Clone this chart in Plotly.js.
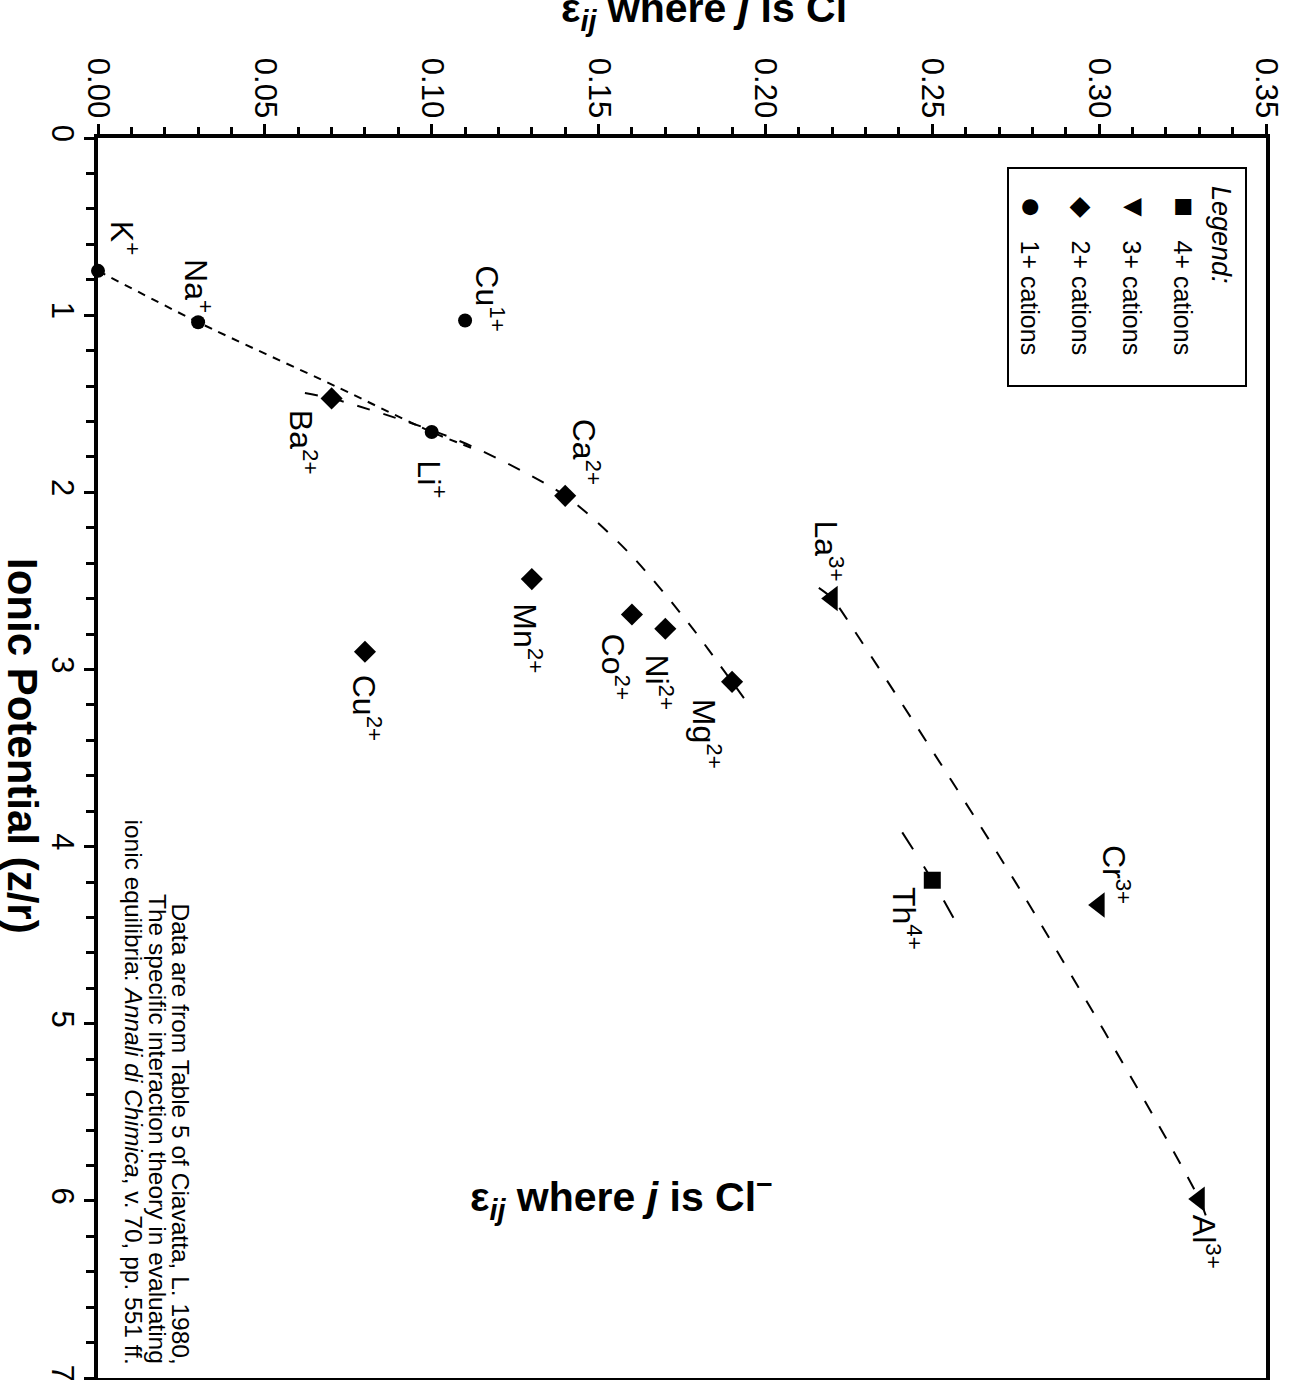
<!DOCTYPE html>
<html><head><meta charset="utf-8">
<script src="https://cdn.plot.ly/plotly-3.0.1.min.js"></script>
<style>html,body{margin:0;padding:0;background:#fff}</style>
</head><body><div id="chart" style="width:1293px;height:1380px"></div>
<script>
// ---- data (epsilon with Cl-, ionic potential z/r) ----
const ions1 = ['K<sup>+</sup>','Na<sup>+</sup>','Cu<sup>1+</sup>','Li<sup>+</sup>'];
const eps1 = [0.00, 0.03, 0.11, 0.10];
const zr1 = [0.75, 1.04, 1.03, 1.66];
const ions2 = ['Ba<sup>2+</sup>','Ca<sup>2+</sup>','Mn<sup>2+</sup>','Co<sup>2+</sup>','Ni<sup>2+</sup>','Cu<sup>2+</sup>','Mg<sup>2+</sup>'];
const eps2 = [0.07, 0.14, 0.13, 0.16, 0.17, 0.08, 0.19];
const zr2 = [1.47, 2.02, 2.49, 2.69, 2.77, 2.90, 3.07];
const ions3 = ['La<sup>3+</sup>','Cr<sup>3+</sup>','Al<sup>3+</sup>'];
const eps3 = [0.22, 0.30, 0.33];
const zr3 = [2.60, 4.33, 5.99];
const ions4 = ['Th<sup>4+</sup>'];
const eps4 = [0.25];
const zr4 = [4.19];

// trend lines
const trend1Eps = [0.00, 0.03, 0.071, 0.10, 0.112];
const trend1Zr  = [0.75, 1.04, 1.40, 1.66, 1.75];
const trend2Eps = [0.062, 0.07, 0.094, 0.112, 0.14, 0.159, 0.177, 0.19, 0.195];
const trend2Zr  = [1.44, 1.47, 1.61, 1.74, 2.02, 2.34, 2.74, 3.07, 3.20];
const trend3Eps = [0.216, 0.22, 0.228, 0.2775, 0.33, 0.3326];
const trend3Zr  = [2.54, 2.60, 2.82, 4.28, 5.99, 6.12];
const trend4Eps = [0.241, 0.25, 0.258];
const trend4Zr  = [3.92, 4.19, 4.46];

const xTickVals = [0, 0.05, 0.10, 0.15, 0.20, 0.25, 0.30, 0.35];
const xTickText = ['0.00','0.05','0.10','0.15','0.20','0.25','0.30','0.35'];
const yTickVals = [0, 1, 2, 3, 4, 5, 6, 7];
const yTickText = ['0','1','2','3','4','5','6','7'];

const legendTitle = 'Legend:';
const legendLabels = ['4+ cations', '3+ cations', '2+ cations', '1+ cations'];
const legendGlyphs = ['\u25A0', '\u25BC', '\u25C6', '\u25CF'];

const axisTitleX = '\u03B5<sub><i>ij</i></sub> where <i>j</i> is Cl<sup>\u2212</sup>';
const axisTitleY = 'Ionic Potential (z/r)';
const sourceLines = [
  'Data are from Table 5 of Ciavatta, L. 1980,',
  'The specific interaction theory in evaluating',
  'ionic equilibria: <i>Annali di Chimica</i>, v. 70, pp. 551 ff.'
];

// ---- styling / placement ----
const FONT = 'Liberation Sans, Arial, Helvetica, sans-serif';
const W = 1293, H = 1380;
const M = {l: 98, r: 27, t: 138, b: 2};
const pw = W - M.l - M.r, ph = H - M.t - M.b;
const px2paperX = p => (p - M.l) / pw;
const px2paperY = p => (H - M.b - p) / ph;

const labelOffsets = { // pixel offsets of label centre from point [dx, dy(down)]
  'K<sup>+</sup>': [27, -33], 'Na<sup>+</sup>': [0, -36], 'Cu<sup>1+</sup>': [24, -22],
  'Li<sup>+</sup>': [0, 47], 'Ba<sup>2+</sup>': [-29, 44], 'Ca<sup>2+</sup>': [21, -44],
  'Mn<sup>2+</sup>': [-4, 59], 'Co<sup>2+</sup>': [-16, 52], 'Ni<sup>2+</sup>': [-6, 54],
  'Mg<sup>2+</sup>': [-25, 52], 'Cu<sup>2+</sup>': [2, 56], 'La<sup>3+</sup>': [-3, -48],
  'Cr<sup>3+</sup>': [17, -31], 'Th<sup>4+</sup>': [-26, 38], 'Al<sup>3+</sup>': [7, 43]
};

function lineTrace(xs, ys, dash) {
  return {x: xs, y: ys, type: 'scatter', mode: 'lines', hoverinfo: 'skip',
    line: {color: '#000', width: 2, dash: dash, shape: 'spline', smoothing: 0.8}, showlegend: false};
}
function markTrace(xs, ys, sym, size, names) {
  return {x: xs, y: ys, type: 'scatter', mode: 'markers', text: names, hoverinfo: 'text',
    cliponaxis: false, marker: {color: '#000', symbol: sym, size: size, line: {width: 0}}, showlegend: false};
}

const data = [
  lineTrace(trend1Eps, trend1Zr, '8px,7px'),
  lineTrace(trend2Eps, trend2Zr, '13px,14px'),
  lineTrace(trend3Eps, trend3Zr, '14px,15px'),
  lineTrace(trend4Eps, trend4Zr, '20px,20px'),
  markTrace(eps1, zr1, 'circle', 14, ions1),
  markTrace(eps2, zr2, 'diamond', 17, ions2),
  markTrace(eps3, zr3, 'triangle-left', 22, ions3),
  markTrace(eps4, zr4, 'square', 17, ions4)
];

const annotations = [];
[[ions1, eps1, zr1], [ions2, eps2, zr2], [ions3, eps3, zr3], [ions4, eps4, zr4]].forEach(([names, xs, ys]) => {
  names.forEach((n, i) => {
    const o = labelOffsets[n] || [0, 0];
    annotations.push({x: xs[i], y: ys[i], xref: 'x', yref: 'y', text: n, showarrow: false,
      textangle: 90, xanchor: 'center', yanchor: 'middle', xshift: o[0], yshift: -o[1],
      font: {family: FONT, size: 32, color: '#000'}});
  });
});

// legend (rotated) inside box
annotations.push({xref: 'paper', yref: 'paper', x: px2paperX(1221), y: px2paperY(184), text: '<i>' + legendTitle + '</i>',
  showarrow: false, textangle: 90, xanchor: 'center', yanchor: 'top', font: {family: FONT, size: 27, color: '#000'}});
const legX = [1183, 1132, 1081, 1030];
legendLabels.forEach((t, i) => {
  annotations.push({xref: 'paper', yref: 'paper', x: px2paperX(legX[i]), y: px2paperY(238), text: t,
    showarrow: false, textangle: 90, xanchor: 'center', yanchor: 'top', font: {family: FONT, size: 25, color: '#000'}});
  annotations.push({xref: 'paper', yref: 'paper', x: px2paperX(legX[i] + 2), y: px2paperY(207), text: legendGlyphs[i],
    showarrow: false, textangle: 90, xanchor: 'center', yanchor: 'middle',
    font: {family: 'DejaVu Sans', size: i === 2 ? 27 : (i === 1 ? 24 : 21), color: '#000'}});
});

// in-plot title and cut-off top title
annotations.push({xref: 'paper', yref: 'paper', x: px2paperX(621), y: px2paperY(1197), text: '<b>' + axisTitleX + '</b>',
  showarrow: false, xanchor: 'center', yanchor: 'middle', font: {family: FONT, size: 41, color: '#000'}});
annotations.push({xref: 'paper', yref: 'paper', x: px2paperX(712), y: px2paperY(8), text: '<b>' + axisTitleX + '</b>',
  showarrow: false, xanchor: 'center', yanchor: 'middle', font: {family: FONT, size: 41, color: '#000'}});
// y axis title, rotated to read downward
annotations.push({xref: 'paper', yref: 'paper', x: px2paperX(23), y: px2paperY(746), text: '<b>' + axisTitleY + '</b>',
  showarrow: false, textangle: 90, xanchor: 'center', yanchor: 'middle', font: {family: FONT, size: 42, color: '#000'}});
// source note
const srcX = [180, 158, 133];
sourceLines.forEach((t, i) => {
  annotations.push({xref: 'paper', yref: 'paper', x: px2paperX(srcX[i]), y: px2paperY(1366), text: t,
    showarrow: false, textangle: 90, xanchor: 'center', yanchor: 'bottom', font: {family: FONT, size: 24.5, color: '#000'}});
});

const shapes = [{type: 'rect', xref: 'paper', yref: 'paper', x0: px2paperX(1008), x1: px2paperX(1246),
  y0: px2paperY(386), y1: px2paperY(168), line: {color: '#000', width: 2}, fillcolor: 'rgba(0,0,0,0)'}];

const axisCommon = {showline: true, linecolor: '#000', linewidth: 4, mirror: true, ticks: 'outside',
  tickcolor: '#000', tickwidth: 3, showgrid: false, zeroline: false, tickangle: 90,
  ticklabeloverflow: 'allow', tickfont: {family: FONT, size: 31, color: '#000'}, fixedrange: true};

const layout = {
  width: W, height: H, margin: M, paper_bgcolor: '#fff', plot_bgcolor: '#fff', showlegend: false,
  xaxis: Object.assign({}, axisCommon, {side: 'top', range: [0, 0.35], tickvals: xTickVals, ticktext: xTickText,
    ticklen: 10, ticklabelstandoff: -5, minor: {dtick: 0.01, ticks: 'outside', ticklen: 7, tickwidth: 3, tickcolor: '#000'}}),
  yaxis: Object.assign({}, axisCommon, {range: [7, 0], tickvals: yTickVals, ticktext: yTickText,
    ticklen: 10, ticklabelstandoff: -5, minor: {dtick: 0.2, ticks: 'outside', ticklen: 8, tickwidth: 3, tickcolor: '#000'}}),
  annotations: annotations, shapes: shapes
};

Plotly.newPlot('chart', data, layout, {displayModeBar: false, staticPlot: true});
</script></body></html>
